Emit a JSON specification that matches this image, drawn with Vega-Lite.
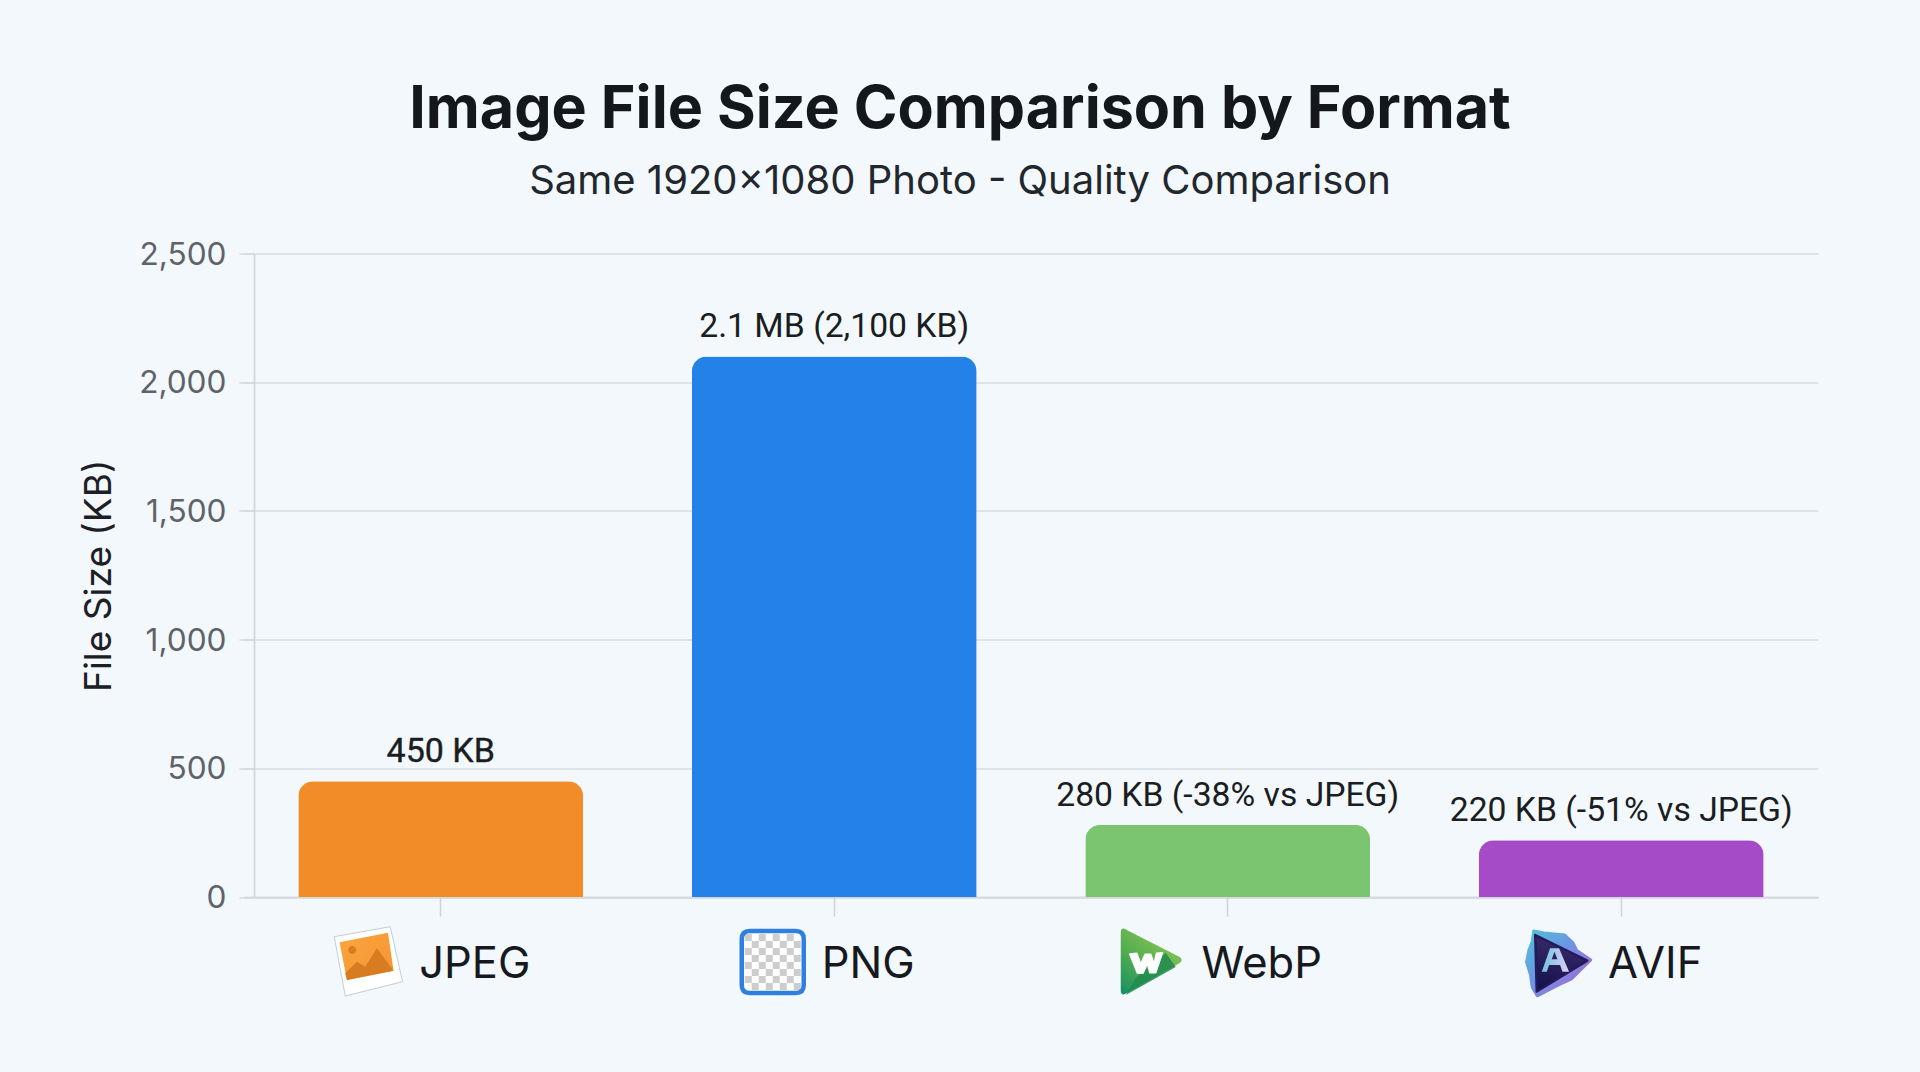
{
  "$schema": "https://vega.github.io/schema/vega-lite/v5.json",
  "autosize": {"type": "none"},
  "padding": {"left": 244, "top": 253.5, "right": 102, "bottom": 175},
  "width": 1574,
  "height": 643.5,
  "background": "#f3f8fc",
  "title": {
    "text": "Image File Size Comparison by Format",
    "subtitle": "Same 1920x1080 Photo - Quality Comparison",
    "anchor": "middle",
    "frame": "group",
    "dx": -71,
    "offset": 37,
    "font": "Inter",
    "fontSize": 59.2,
    "fontWeight": 700,
    "color": "#14181d",
    "subtitleFont": "Inter",
    "subtitleFontSize": 40,
    "subtitleFontWeight": 400,
    "subtitleColor": "#22272d",
    "subtitlePadding": 22
  },
  "data": {
    "values": [
      {"format": "JPEG", "size": 450, "label": "450 KB"},
      {"format": "PNG", "size": 2100, "label": "2.1 MB (2,100 KB)"},
      {"format": "WebP", "size": 280, "label": "280 KB (-38% vs JPEG)"},
      {"format": "AVIF", "size": 220, "label": "220 KB (-51% vs JPEG)"}
    ]
  },
  "encoding": {
    "x": {
      "field": "format",
      "type": "nominal",
      "sort": null,
      "title": null,
      "scale": {"type": "band", "paddingInner": 0.276, "paddingOuter": 0.138},
      "axis": {
        "labelAngle": 0,
        "labelFont": "Inter",
        "labelFontSize": 43.5,
        "labelFontWeight": 400,
        "labelColor": "#16191e",
        "labelOffset": 34,
        "labelPadding": 27,
        "tickSize": 19,
        "tickWidth": 1.5,
        "tickColor": "#cfd3d8",
        "domainColor": "#d5d9de",
        "domainWidth": 2,
        "grid": false
      }
    },
    "y": {
      "field": "size",
      "type": "quantitative",
      "title": "File Size (KB)",
      "scale": {"domain": [0, 2500], "nice": false},
      "axis": {
        "values": [0, 500, 1000, 1500, 2000, 2500],
        "format": ",d",
        "offset": -10,
        "labelFont": "Inter",
        "labelFontSize": 31.6,
        "labelColor": "#5f6368",
        "labelPadding": 13,
        "labelOffset": 1.5,
        "tickSize": 15,
        "tickWidth": 1.5,
        "tickColor": "#d5d9de",
        "domainColor": "#d5d9de",
        "domainWidth": 2,
        "grid": true,
        "gridColor": "#d9dde2",
        "gridWidth": 1.5,
        "titleFont": "Inter",
        "titleFontSize": 37,
        "titleFontWeight": 400,
        "titleColor": "#1c2025",
        "titlePadding": 20
      }
    }
  },
  "layer": [
    {
      "mark": {"type": "bar", "cornerRadiusTopLeft": 15, "cornerRadiusTopRight": 15},
      "encoding": {
        "color": {
          "field": "format",
          "type": "nominal",
          "legend": null,
          "scale": {
            "domain": ["JPEG", "PNG", "WebP", "AVIF"],
            "range": ["#f28c28", "#2481e8", "#7bc470", "#a54bc7"]
          }
        }
      }
    },
    {
      "transform": [{"filter": "datum.format !== 'JPEG'"}],
      "mark": {"type": "text", "font": "Roboto", "fontSize": 33.7, "baseline": "alphabetic", "dy": -19, "color": "#1a1d21"},
      "encoding": {"text": {"field": "label"}}
    },
    {
      "transform": [{"filter": "datum.format === 'JPEG'"}],
      "mark": {"type": "text", "font": "Roboto", "fontSize": 34, "baseline": "alphabetic", "dy": -19, "color": "#1a1d21", "stroke": "#1a1d21", "strokeWidth": 0.4},
      "encoding": {"text": {"field": "label"}}
    },
    {
      "transform": [{"filter": "datum.format === 'JPEG'"}],
      "mark": {"type": "point", "size": 4, "opacity": 1, "filled": true, "xOffset": -73, "yOffset": 64, "fill": "#ffffff", "stroke": "#c6cdd6", "strokeWidth": 1,
        "shape": "M-33.5 -24.3L22.5 -34.3L34.8 20.7L-22.5 35Z"},
      "encoding": {"y": {"datum": 0}}
    },
    {
      "transform": [{"filter": "datum.format === 'JPEG'"}],
      "mark": {"type": "point", "size": 4, "opacity": 1, "filled": true, "xOffset": -73, "yOffset": 64, "strokeWidth": 0,
        "fill": {"gradient": "linear", "x1": 0, "y1": 0, "x2": 1, "y2": 1, "stops": [{"offset": 0, "color": "#fba63f"}, {"offset": 1, "color": "#f59331"}]},
        "shape": "M-28.2 -18.7L20.2 -28.3L25.8 9.7L-20.8 19Z"},
      "encoding": {"y": {"datum": 0}}
    },
    {
      "transform": [{"filter": "datum.format === 'JPEG'"}],
      "mark": {"type": "point", "size": 4, "opacity": 1, "filled": true, "xOffset": -73, "yOffset": 64, "strokeWidth": 0, "fill": "#d87c22",
        "shape": "M-20.8 19L-22.5 12.3L-10.8 0.7L-2.5 5.7L9.2 -12.7L25.8 9.7ZM-19.5 -11A4 4 0 1 0 -11.5 -11A4 4 0 1 0 -19.5 -11Z"},
      "encoding": {"y": {"datum": 0}}
    },
    {
      "transform": [{"filter": "datum.format === 'PNG'"}],
      "mark": {"type": "point", "size": 4, "opacity": 1, "filled": true, "xOffset": -61.5, "yOffset": 65, "strokeWidth": 0, "fill": "#ffffff",
        "shape": "M-23 -31H23Q31 -31 31 -23V23Q31 31 23 31H-23Q-31 31 -31 23V-23Q-31 -31 -23 -31Z"},
      "encoding": {"y": {"datum": 0}}
    },
    {
      "transform": [{"filter": "datum.format === 'PNG'"}],
      "mark": {"type": "point", "size": 4, "opacity": 1, "filled": true, "xOffset": -61.5, "yOffset": 65, "strokeWidth": 0, "fill": "#cdcdcd",
        "shape": "M-28 -28h7v7h-7zM-14 -28h7v7h-7zM0 -28h7v7h-7zM14 -28h7v7h-7zM-21 -21h7v7h-7zM-7 -21h7v7h-7zM7 -21h7v7h-7zM21 -21h7v7h-7zM-28 -14h7v7h-7zM-14 -14h7v7h-7zM0 -14h7v7h-7zM14 -14h7v7h-7zM-21 -7h7v7h-7zM-7 -7h7v7h-7zM7 -7h7v7h-7zM21 -7h7v7h-7zM-28 0h7v7h-7zM-14 0h7v7h-7zM0 0h7v7h-7zM14 0h7v7h-7zM-21 7h7v7h-7zM-7 7h7v7h-7zM7 7h7v7h-7zM21 7h7v7h-7zM-28 14h7v7h-7zM-14 14h7v7h-7zM0 14h7v7h-7zM14 14h7v7h-7zM-21 21h7v7h-7zM-7 21h7v7h-7zM7 21h7v7h-7zM21 21h7v7h-7z"},
      "encoding": {"y": {"datum": 0}}
    },
    {
      "transform": [{"filter": "datum.format === 'PNG'"}],
      "mark": {"type": "point", "size": 4, "opacity": 1, "filled": false, "xOffset": -61.5, "yOffset": 65, "stroke": "#2f7fdf", "strokeWidth": 4.5,
        "shape": "M-23 -31H23Q31 -31 31 -23V23Q31 31 23 31H-23Q-31 31 -31 23V-23Q-31 -31 -23 -31Z"},
      "encoding": {"y": {"datum": 0}}
    },
    {
      "transform": [{"filter": "datum.format === 'WebP'"}],
      "mark": {"type": "point", "size": 4, "opacity": 1, "filled": true, "xOffset": -76, "yOffset": 64, "strokeWidth": 0,
        "fill": {"gradient": "linear", "x1": 0.8, "y1": 0, "x2": 0, "y2": 1, "stops": [{"offset": 0, "color": "#8fc855"}, {"offset": 0.55, "color": "#55ad50"}, {"offset": 1, "color": "#118f62"}]},
        "shape": "M-31 -28Q-31 -35 -25 -31L28 -4Q32 -1 28 2L-25 32Q-31 36 -31 29Z"},
      "encoding": {"y": {"datum": 0}}
    },
    {
      "transform": [{"filter": "datum.format === 'WebP'"}],
      "mark": {"type": "point", "size": 4, "opacity": 0.85, "filled": true, "xOffset": -76, "yOffset": 64, "strokeWidth": 0, "fill": "#1f8b4c",
        "shape": "M14 -8L24 6L-26 34L-16 17Z"},
      "encoding": {"y": {"datum": 0}}
    },
    {
      "transform": [{"filter": "datum.format === 'WebP'"}],
      "mark": {"type": "point", "size": 4, "opacity": 1, "filled": true, "xOffset": -76, "yOffset": 64, "fill": "#ffffff", "stroke": "#ffffff", "strokeWidth": 1.5, "strokeJoin": "round",
        "shape": "M-22 -7L-15 -7.7L-11 3L-6.7 -6.7L-1 -6.7L2.3 3L4.7 -7.7L10.7 -8.3L4 11.7L-2 11.7L-4.3 2.3L-8.7 12.3L-14.3 12.3Z"},
      "encoding": {"y": {"datum": 0}}
    },
    {
      "transform": [{"filter": "datum.format === 'AVIF'"}],
      "mark": {"type": "point", "size": 4, "opacity": 1, "filled": true, "xOffset": -61.5, "yOffset": 64, "strokeWidth": 3, "strokeJoin": "round",
        "fill": {"gradient": "linear", "x1": 0, "y1": 0, "x2": 1, "y2": 1, "stops": [{"offset": 0, "color": "#4fc3d9"}, {"offset": 0.45, "color": "#6e93e4"}, {"offset": 1, "color": "#b05fd2"}]},
        "stroke": {"gradient": "linear", "x1": 0, "y1": 0, "x2": 1, "y2": 1, "stops": [{"offset": 0, "color": "#4fc3d9"}, {"offset": 0.45, "color": "#6e93e4"}, {"offset": 1, "color": "#b05fd2"}]},
        "shape": "M-26 -30L-15.7 -28L5 -26L13 -18.5L17 -10.5L31 -1L20 9.7L11.7 18L-2.3 24.5L-22.5 34.8L-27.5 26.3L-29.2 14L-33.2 0.7L-30.8 -11L-27.5 -19.3Z"},
      "encoding": {"y": {"datum": 0}}
    },
    {
      "transform": [{"filter": "datum.format === 'AVIF'"}],
      "mark": {"type": "point", "size": 4, "opacity": 1, "filled": true, "xOffset": -61.5, "yOffset": 64, "strokeWidth": 2.5, "strokeJoin": "round", "stroke": "#221a5a",
        "fill": {"gradient": "linear", "x1": 0.5, "y1": 0, "x2": 0.3, "y2": 1, "stops": [{"offset": 0, "color": "#3b2b6c"}, {"offset": 1, "color": "#15114c"}]},
        "shape": "M-24.5 -26L27.5 -0.3L-23 30.5Z"},
      "encoding": {"y": {"datum": 0}}
    },
    {
      "transform": [{"filter": "datum.format === 'AVIF'"}],
      "mark": {"type": "point", "size": 4, "opacity": 1, "filled": true, "xOffset": -61.5, "yOffset": 64, "strokeWidth": 0,
        "fill": {"gradient": "linear", "x1": 0, "y1": 0.5, "x2": 1, "y2": 0.5, "stops": [{"offset": 0, "color": "#6cc4de"}, {"offset": 1, "color": "#e0cdf5"}]},
        "shape": "M-9.7 -12.7L-0.7 -12.7L9.3 10.7L2.7 10.7L0.3 4L-10.7 4L-13 10.7L-18 10.7ZM-5.3 -9.3L-8 -1.7L-2.3 -1.7Z"},
      "encoding": {"y": {"datum": 0}}
    }
  ],
  "config": {"view": {"stroke": null}}
}
